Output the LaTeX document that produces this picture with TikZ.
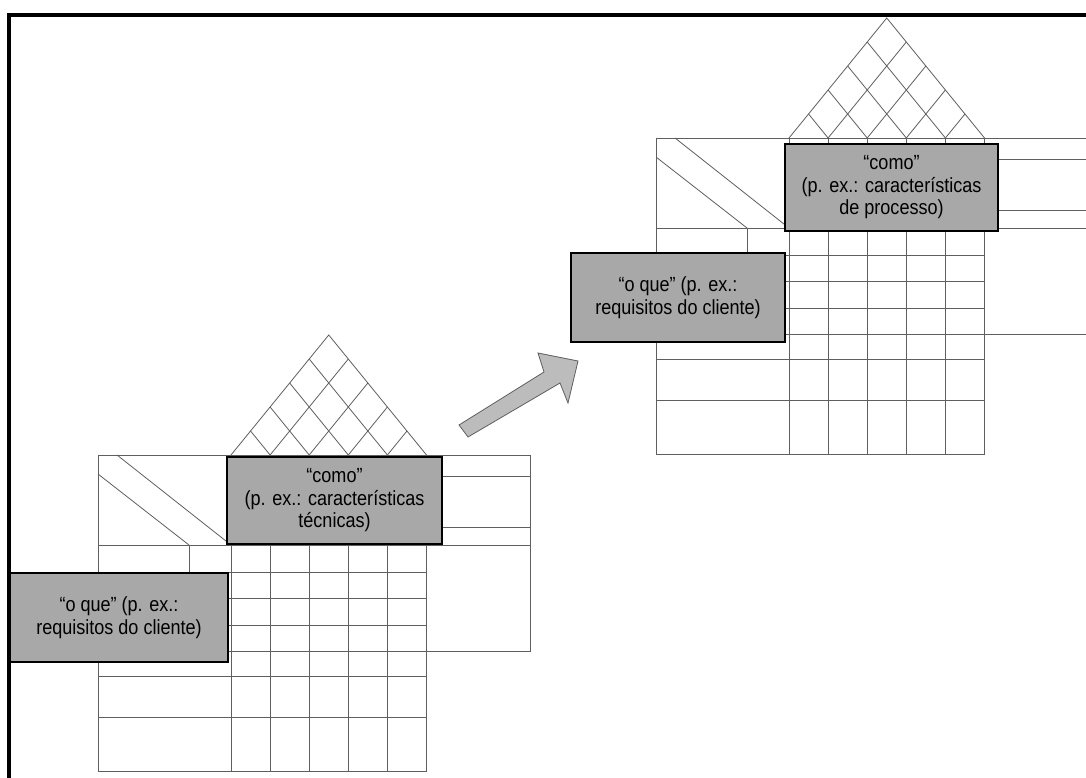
\documentclass[tikz,border=0pt]{standalone}
\usepackage{fontspec}
\setmainfont{Liberation Sans}
\newfontfamily\boxfont{Liberation Sans}[FakeStretch=0.88]
\definecolor{boxgray}{RGB}{168,168,168}
\definecolor{arrowgray}{RGB}{188,188,188}
\definecolor{linegray}{RGB}{95,95,95}
\tikzset{
  gridline/.style={draw=linegray, line width=0.8pt},
  labelbox/.style={draw=black, line width=1.6pt, fill=boxgray, align=center,
    font=\boxfont\fontsize{20.5}{22.5}\selectfont, inner sep=0pt},
  qfd/.pic={
    % table outline and rows
    \draw[gridline] (0,0) -- (432,0) -- (432,196.5);
    \draw[gridline] (0,0) -- (0,316.5) -- (328.5,316.5);
    \draw[gridline] (0,90) -- (432,90);
    \draw[gridline] (328.5,21) -- (432,21);
    \draw[gridline] (328.5,72) -- (432,72);
    \draw[gridline] (0,196.5) -- (432,196.5);
    \foreach \r in {117,143.5,170.5,221.5,262.5}
      \draw[gridline] (0,\r) -- (328.5,\r);
    \foreach \c in {133,172.1,211.2,250.3,289.4,328.5}
      \draw[gridline] (\c,0) -- (\c,316.5);
    % small vertical in the what-header
    \draw[gridline] (91,90) -- (91,117);
    % corner diagonals
    \draw[gridline] (19,0) -- (133,90);
    \draw[gridline] (0,19) -- (91,90);
    % roof
    \draw[gridline] (133,0) -- (230.75,-120) -- (328.5,0);
    \foreach \i in {1,...,4}{
      \draw[gridline] ({133+39.1*\i},0) -- ({133+39.1*\i+(1-\i/5)*97.75},{-(1-\i/5)*120});
      \draw[gridline] ({133+39.1*\i},0) -- ({133+39.1*\i-(\i/5)*97.75},{-(\i/5)*120});
    }
  }
}
\begin{document}
\begin{tikzpicture}[x=1pt,y=-1pt]
\useasboundingbox (0,0) rectangle (1086,778);
\fill[white] (0,0) rectangle (1086,778);
% frame
\draw[line width=4pt, line cap=rect] (9,778) -- (9,15) -- (1086,15);
% the two charts
\pic at (98,455) {qfd};
\pic at (656,138) {qfd};
% labels
\node[labelbox, minimum width=215pt, minimum height=87pt] (como1) at (334.5,500.5)
  {“como”\\(p. ex.: características\\técnicas)};
\node[labelbox, minimum width=218pt, minimum height=89pt] (oque1) at (119,617.5)
  {“o que” (p. ex.:\\requisitos do cliente)};
\node[labelbox, minimum width=213pt, minimum height=87pt] (como2) at (891.5,187.5)
  {“como”\\(p. ex.: características\\de processo)};
\node[labelbox, minimum width=214pt, minimum height=89pt] (oque2) at (678,297.5)
  {“o que” (p. ex.:\\requisitos do cliente)};
% block arrow
\draw[fill=arrowgray, draw=linegray, line width=0.8pt, line join=miter]
  (459,425) -- (544,372) -- (538,353) -- (578,361) -- (568,403) -- (560,383) -- (468,437) -- cycle;
\end{tikzpicture}
\end{document}
